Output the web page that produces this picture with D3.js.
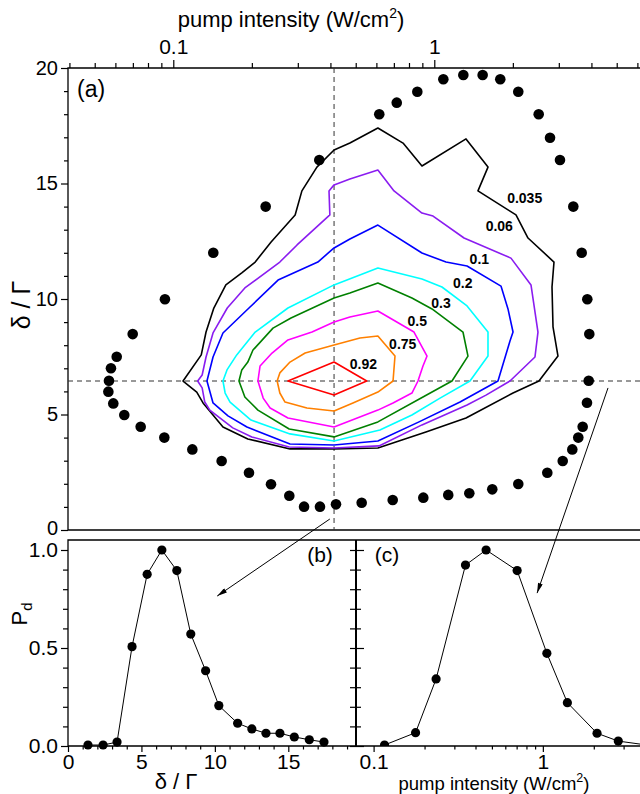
<!DOCTYPE html>
<html><head><meta charset="utf-8">
<script src="https://cdn.jsdelivr.net/npm/d3@7"></script>
<style>
body{margin:0;background:#fff}
svg text{font-family:"Liberation Sans",Arial,sans-serif;fill:#000}
</style>
</head><body>
<svg id="chart" width="640" height="794"></svg>
<script>
// ================= DATA =================
// panel (a): top axis (pump intensity, W/cm^2) and left axis (delta/Gamma)
const topMajorTicks = [0.1, 1];
const topMinorTicks = [0.04,0.05,0.06,0.07,0.08,0.09,0.2,0.3,0.4,0.5,0.6,0.7,0.8,0.9,2,3,4,5,6];
const deltaMajorTicks = [0, 5, 10, 15, 20];
const deltaMinorTicks = [1,2,3,4,6,7,8,9,11,12,13,14,16,17,18,19];
const peakIntensity = 0.413;
const peakDelta = 6.45;

// contour levels and their polylines [intensity, delta/Gamma]
const contourLevels = ["0.035","0.06","0.1","0.2","0.3","0.5","0.75","0.92"];
const contour0035 = [[0.109,6.45],[0.128,7.58],[0.1335,8.57],[0.143,9.61],[0.159,10.61],[0.183,11.13],[0.206,11.60],[0.237,12.47],[0.293,13.64],[0.311,14.68],[0.355,15.71],[0.413,16.45],[0.475,16.75],[0.608,17.40],[0.759,16.75],[0.897,15.76],[1.323,16.93],[1.606,15.71],[1.47,14.68],[2.056,13.64],[2.286,12.64],[2.875,11.60],[2.825,10.52],[2.85,8.79],[2.978,7.53],[2.518,6.45],[2.003,5.93],[1.323,4.85],[0.929,4.24],[0.608,3.55],[0.413,3.51],[0.280,3.51],[0.193,3.94],[0.155,4.46],[0.130,5.50],[0.123,5.97]];
const contour006 = [[0.124,6.45],[0.129,6.71],[0.1335,7.49],[0.142,8.53],[0.161,9.61],[0.188,10.48],[0.256,11.60],[0.298,12.34],[0.398,13.64],[0.395,14.68],[0.413,14.94],[0.475,15.19],[0.608,15.58],[0.701,14.68],[0.897,13.72],[0.989,13.59],[1.30,12.64],[1.967,11.77],[2.347,10.61],[2.496,8.57],[2.431,7.49],[1.950,6.45],[1.578,5.84],[1.335,5.41],[0.897,4.55],[0.614,3.64],[0.413,3.55],[0.278,3.59],[0.200,4.03],[0.169,4.42],[0.138,5.19],[0.132,5.54],[0.129,6.15]];
const contour01 = [[0.1346,6.45],[0.142,7.49],[0.155,8.53],[0.195,9.61],[0.252,10.82],[0.358,11.60],[0.413,12.21],[0.475,12.60],[0.608,13.20],[0.897,11.99],[1.109,11.60],[1.335,11.43],[1.801,10.56],[1.916,9.57],[2.003,8.57],[1.950,8.18],[1.754,6.45],[1.255,5.54],[0.874,4.68],[0.608,3.85],[0.413,3.68],[0.280,3.72],[0.1915,4.46],[0.162,4.94],[0.142,5.50]];
const contour02 = [[0.155,6.45],[0.1606,6.93],[0.175,7.58],[0.206,8.57],[0.275,9.61],[0.413,10.61],[0.608,11.34],[0.897,10.87],[1.070,10.52],[1.335,9.70],[1.606,8.57],[1.606,7.53],[1.370,6.45],[1.052,5.71],[0.821,4.98],[0.619,4.33],[0.413,3.85],[0.280,4.16],[0.1985,4.76],[0.165,5.54],[0.158,5.93]];
const contour03 = [[0.1785,6.45],[0.183,6.93],[0.193,7.27],[0.202,7.79],[0.241,8.74],[0.2825,9.18],[0.413,10.04],[0.475,10.26],[0.608,10.69],[0.821,10.04],[0.980,9.57],[1.288,8.57],[1.346,7.53],[1.169,6.45],[0.905,5.76],[0.608,4.68],[0.413,4.03],[0.278,4.37],[0.211,5.19],[0.188,5.76]];
const contour05 = [[0.211,6.45],[0.215,7.10],[0.239,7.66],[0.275,8.23],[0.340,8.57],[0.413,9.00],[0.475,9.22],[0.608,9.48],[0.836,8.57],[0.938,7.53],[0.905,7.10],[0.866,6.45],[0.821,5.93],[0.695,5.50],[0.608,5.19],[0.413,4.46],[0.275,4.85],[0.235,5.28],[0.221,5.71]];
const contour075 = [[0.250,6.45],[0.256,6.80],[0.280,7.27],[0.320,7.66],[0.413,8.01],[0.519,8.31],[0.608,8.40],[0.707,7.53],[0.695,6.45],[0.608,5.97],[0.488,5.50],[0.413,5.15],[0.325,5.28],[0.268,5.54],[0.256,5.93]];
const contour092 = [[0.275,6.45],[0.413,7.27],[0.551,6.45],[0.413,5.84]];
const contours = [contour0035, contour006, contour01, contour02, contour03, contour05, contour075, contour092];
// label anchor of each contour level [intensity, delta/Gamma]
const contourLabelAt = [[2.22,14.39],[1.774,13.16],[1.488,11.72],[1.285,10.71],[1.061,9.81],[0.861,9.05],[0.757,8.05],[0.535,7.19]];

// black dots of panel (a): [intensity, delta/Gamma]
const ringPoints = [
 [0.3625,16.02],[0.2259,14.0],[0.1423,12.0],[0.0929,9.99],[0.0699,8.48],[0.0607,7.5],[0.0577,7.0],[0.0567,6.46],
 [0.0564,5.99],[0.0589,5.48],[0.0649,4.98],[0.0750,4.47],[0.0924,4.0],[0.1183,3.49],[0.1532,2.99],[0.1950,2.48],
 [0.2368,1.98],[0.2783,1.48],[0.3170,1.01],[0.3648,1.01],[0.4201,1.11],[0.5270,1.18],[0.6929,1.30],[0.9077,1.40],
 [1.131,1.52],[1.362,1.59],[1.668,1.76],[2.098,1.99],[2.710,2.48],[3.105,2.99],[3.379,3.49],[3.562,4.0],
 [3.703,4.47],[3.846,5.51],[3.905,6.46],[3.926,8.48],[3.857,9.99],[3.671,12.0],[3.409,14.0],[3.031,16.02],
 [2.776,16.98],[2.512,18.0],[2.098,18.97],[1.790,19.51],[1.532,19.7],[1.292,19.7],[1.083,19.51],[0.861,18.97],
 [0.718,18.5],[0.6155,18.0]];

// panel (b): P_d vs delta/Gamma
const pdDelta  = [1.36,2.39,3.34,4.36,5.39,6.39,7.41,8.36,9.37,10.27,11.55,12.52,13.48,14.43,15.41,16.43,17.43];
const pdDeltaP = [0.005,0.005,0.02,0.507,0.876,1.0,0.895,0.571,0.384,0.206,0.116,0.087,0.065,0.065,0.046,0.032,0.02];
const bMajorX = [0,5,10,15];
const bMinorX = [1,2,3,4,6,7,8,9,11,12,13,14,16,17,18,19];
const pMajor = [0,0.5,1.0];
const pMinor = [0.1,0.2,0.3,0.4,0.6,0.7,0.8,0.9];

// panel (c): P_d vs pump intensity
const pdInt  = [0.116,0.177,0.234,0.349,0.462,0.705,1.056,1.396,2.09,2.79,4.2];
const pdIntP = [0.005,0.068,0.342,0.923,1.0,0.895,0.473,0.221,0.065,0.025,0.004];
const cMajorX = [0.1,1];
const cMinorX = [0.2,0.3,0.4,0.5,0.6,0.7,0.8,0.9,2,3];

// arrows: from panel (a) point to panel (b)/(c) point
const arrowB = {from:[0.398,0.476], to:[10.16,0.765]};
const arrowC = {from:[4.63,6.15], to:[0.925,0.78]};

// ================= LAYOUT / STYLE =================
const A = {l:68, r:640, t:68, b:530};
const B = {l:68, r:356, t:540, b:746};
const C = {l:356, r:640, t:540, b:746};
const contourColors = ["#000000","#8a1cf0","#0000ff","#00ffff","#008000","#ff00ff","#ff8000","#ff0000"];
const serif = '"Liberation Serif","Times New Roman",serif';

const svg = d3.select("#chart");

const xA = d3.scaleLog().domain([0.0395, 6.14]).range([A.l, A.r]);
const yA = d3.scaleLinear().domain([0, 20]).range([A.b, A.t]);
const xB = d3.scaleLinear().domain([0, 19.61]).range([B.l, B.r]);
const yB = d3.scaleLinear().domain([0, 1.051]).range([B.b, B.t]);
const xC = d3.scaleLog().domain([0.0787, 3.75]).range([C.l, C.r]);

const defs = svg.append("defs");
defs.append("clipPath").attr("id","clipA").append("rect").attr("x",A.l).attr("y",A.t).attr("width",A.r-A.l).attr("height",A.b-A.t);
defs.append("clipPath").attr("id","clipC").append("rect").attr("x",C.l).attr("y",C.t-6).attr("width",C.r-C.l).attr("height",C.b-C.t+6);
defs.append("marker").attr("id","ah").attr("viewBox","0 0 12 6").attr("refX",12).attr("refY",3)
  .attr("markerWidth",12).attr("markerHeight",5).attr("markerUnits","userSpaceOnUse").attr("orient","auto")
  .append("path").attr("d","M0,0 L12,3 L0,6 Z").attr("fill","#000");

function styleAxis(g, fs){
  g.select(".domain").remove();
  g.selectAll(".tick line").attr("stroke","#000").attr("stroke-width",1.2);
  g.selectAll(".tick text").attr("font-size",fs).attr("font-family",'"Liberation Sans",Arial,sans-serif').attr("fill","#000");
}
function axis(gen, scale, vals, size, fmt, fs, pad, tx, ty){
  const g = svg.append("g").attr("transform",`translate(${tx},${ty})`)
    .call(gen(scale).tickValues(vals).tickSize(size).tickSizeOuter(0).tickPadding(pad).tickFormat(fmt));
  styleAxis(g, fs);
  return g;
}
const none = () => "";

// ---------- panel (a) ----------
const leftA = axis(d3.axisLeft, yA, deltaMajorTicks, 7, d3.format("d"), 20, 3, A.l, 0);
leftA.selectAll(".tick text").filter(d => d === 0).attr("dy","0.2em");
axis(d3.axisLeft, yA, deltaMinorTicks, 4, none, 10, 3, A.l, 0);
axis(d3.axisTop, xA, topMajorTicks, 8, d => d===1 ? "1" : "0.1", 21, 6, 0, A.t);
axis(d3.axisTop, xA, topMinorTicks, 5, none, 10, 3, 0, A.t);

// frame (a)
svg.append("path").attr("d",`M${A.r},${A.t} H${A.l} V${A.b} H${A.r}`).attr("fill","none").attr("stroke","#000").attr("stroke-width",1.3);

const gA = svg.append("g").attr("clip-path","url(#clipA)");
// dashed guide lines through the peak
gA.append("line").attr("x1",A.l).attr("x2",A.r).attr("y1",yA(peakDelta)).attr("y2",yA(peakDelta))
  .attr("stroke","#333").attr("stroke-width",1).attr("stroke-dasharray","5,4");
gA.append("line").attr("x1",xA(peakIntensity)).attr("x2",xA(peakIntensity)).attr("y1",A.t).attr("y2",A.b)
  .attr("stroke","#333").attr("stroke-width",1).attr("stroke-dasharray","5,4");

const lineA = d3.line().x(d=>xA(d[0])).y(d=>yA(d[1])).curve(d3.curveLinearClosed);
gA.selectAll("path.contour").data(contours).join("path").attr("class","contour")
  .attr("d", lineA).attr("fill","none").attr("stroke",(d,i)=>contourColors[i]).attr("stroke-width",1.6)
  .attr("stroke-linejoin","round");

gA.selectAll("text.clab").data(contourLevels).join("text").attr("class","clab")
  .attr("x",(d,i)=>xA(contourLabelAt[i][0])).attr("y",(d,i)=>yA(contourLabelAt[i][1]))
  .attr("dy","0.36em").attr("text-anchor","middle").attr("font-size",14).attr("font-weight","bold").text(d=>d);

gA.selectAll("circle.ring").data(ringPoints).join("circle").attr("class","ring")
  .attr("cx",d=>xA(d[0])).attr("cy",d=>yA(d[1])).attr("r",5.3).attr("fill","#000");

svg.append("text").attr("x",77).attr("y",97).attr("font-size",23).text("(a)");

// top title
const tt = svg.append("text").attr("x",291).attr("y",27).attr("text-anchor","middle").attr("font-size",22);
tt.append("tspan").text("pump intensity (W/cm");
tt.append("tspan").attr("dy",-9).attr("font-size",14).text("2");
tt.append("tspan").attr("dy",9).text(")");

// left title
svg.append("text").attr("transform","translate(30,305) rotate(-90)").attr("text-anchor","middle")
  .attr("font-size",25).attr("font-family",serif).text("δ / Γ");

// ---------- panel (b) ----------
axis(d3.axisLeft, yB, pMajor, 7, d3.format(".1f"), 21, 3, B.l, 0);
axis(d3.axisLeft, yB, pMinor, 5, none, 10, 3, B.l, 0);
axis(d3.axisBottom, xB, bMajorX, 6, d3.format("d"), 21, 2, 0, B.b);
axis(d3.axisBottom, xB, bMinorX, 3.5, none, 10, 3, 0, B.b);
// shared middle axis ticks (both sides)
axis(d3.axisLeft, yB, pMajor.concat(pMinor), 6, none, 10, 3, C.l, 0);
axis(d3.axisRight, yB, pMajor, 8, none, 10, 3, C.l, 0);
axis(d3.axisRight, yB, pMinor, 5, none, 10, 3, C.l, 0);

// frames (b),(c)
svg.append("path").attr("d",`M${C.r},${B.t} H${B.l} V${B.b} H${C.r}`).attr("fill","none").attr("stroke","#000").attr("stroke-width",1.3);
svg.append("line").attr("x1",C.l).attr("x2",C.l).attr("y1",B.t).attr("y2",B.b).attr("stroke","#000").attr("stroke-width",2);

const lineB = d3.line().x((d,i)=>xB(pdDelta[i])).y((d,i)=>yB(pdDeltaP[i]));
svg.append("path").attr("d", lineB(pdDelta)).attr("fill","none").attr("stroke","#000").attr("stroke-width",1);
svg.selectAll("circle.pb").data(pdDelta).join("circle").attr("class","pb")
  .attr("cx",d=>xB(d)).attr("cy",(d,i)=>yB(pdDeltaP[i])).attr("r",4.6).attr("fill","#000");

svg.append("text").attr("x",320).attr("y",562).attr("text-anchor","middle").attr("font-size",21).text("(b)");
svg.append("text").attr("transform","translate(176,789)").attr("text-anchor","middle")
  .attr("font-size",22).attr("font-family",serif).text("δ / Γ");
const pd = svg.append("text").attr("transform","translate(27,614) rotate(-90)").attr("text-anchor","middle").attr("font-size",22);
pd.append("tspan").text("P");
pd.append("tspan").attr("dy",5).attr("font-size",15).text("d");

// ---------- panel (c) ----------
axis(d3.axisBottom, xC, cMajorX, 6, d => d===1 ? "1" : "0.1", 21, 2, 0, C.b);
axis(d3.axisBottom, xC, cMinorX, 3.5, none, 10, 3, 0, C.b);

const gC = svg.append("g").attr("clip-path","url(#clipC)");
const lineC = d3.line().x((d,i)=>xC(pdInt[i])).y((d,i)=>yB(pdIntP[i]));
gC.append("path").attr("d", lineC(pdInt)).attr("fill","none").attr("stroke","#000").attr("stroke-width",1);
gC.selectAll("circle.pc").data(pdInt).join("circle").attr("class","pc")
  .attr("cx",d=>xC(d)).attr("cy",(d,i)=>yB(pdIntP[i])).attr("r",4.6).attr("fill","#000");

svg.append("text").attr("x",387).attr("y",562).attr("text-anchor","middle").attr("font-size",21).text("(c)");
const ct = svg.append("text").attr("x",494).attr("y",790).attr("text-anchor","middle").attr("font-size",18.5);
ct.append("tspan").text("pump intensity (W/cm");
ct.append("tspan").attr("dy",-8).attr("font-size",12.5).text("2");
ct.append("tspan").attr("dy",8).text(")");

// ---------- arrows ----------
svg.append("line").attr("x1",xA(arrowB.from[0])).attr("y1",yA(arrowB.from[1]))
  .attr("x2",xB(arrowB.to[0])).attr("y2",yB(arrowB.to[1])).attr("stroke","#000").attr("stroke-width",1).attr("marker-end","url(#ah)");
svg.append("line").attr("x1",xA(arrowC.from[0])).attr("y1",yA(arrowC.from[1]))
  .attr("x2",xC(arrowC.to[0])).attr("y2",yB(arrowC.to[1])).attr("stroke","#000").attr("stroke-width",1).attr("marker-end","url(#ah)");
</script>
</body></html>
